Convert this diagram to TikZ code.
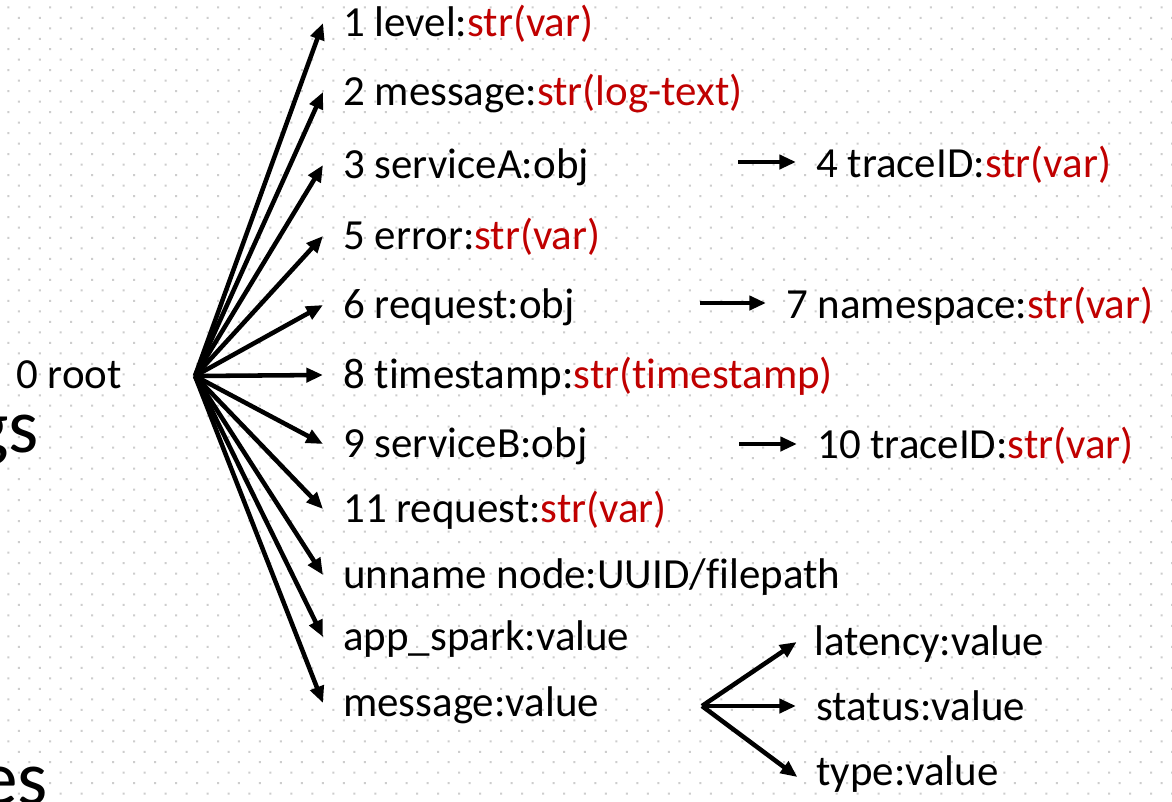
\documentclass[tikz,border=0pt]{standalone}
\usepackage{fontspec}
\setmainfont{Carlito}[Ligatures={NoCommon}]
\usetikzlibrary{arrows.meta}
\definecolor{valred}{HTML}{C00000}
\definecolor{dotgray}{HTML}{CDCDCD}
\begin{document}
\begin{tikzpicture}[x=0.75pt,y=-0.75pt,
  lbl/.style={anchor=base west, inner xsep=15pt, inner ysep=0pt,
              font=\fontsize{32.2}{36}\selectfont},
  plain/.style={anchor=base west, inner sep=0pt,
              font=\fontsize{32.2}{36}\selectfont},
  big/.style={anchor=base west, inner sep=0pt,
              font=\fontsize{58}{64}\selectfont},
  arr/.style={line width=3.4pt, -{Triangle[length=12.5pt,width=10.5pt]}},
]
\useasboundingbox (0,0) rectangle (1172,801);
\clip (0,0) rectangle (1172,801);
\fill[white] (0,0) rectangle (1172,801);

% staggered dot grid
\fill[dotgray] \foreach \i in {0,...,55} {\foreach \j in {0,...,38} {
  (7.3+20.97*\i, 6.3+20.97*\j) rectangle ++(2,2)
  (17.8+20.97*\i, 16.8+20.97*\j) rectangle ++(2,2)}};

% partially visible headings on the left
\node[big] (gs) at (-28,452) {gs};
\node[big] (es) at (-21,804) {es};

% root
\node[plain] (r0) at (16,388) {0 root};
\coordinate (root) at (195,376);

% first-level fields
\node[lbl] (l1)  at (323,36)  {1 level:\textcolor{valred}{str(var)}};
\node[lbl] (l2)  at (323,105) {2 message:\textcolor{valred}{str(log-text)}};
\node[lbl] (l3)  at (323,178) {3 serviceA:obj};
\node[lbl] (l5)  at (323,249) {5 error:\textcolor{valred}{str(var)}};
\node[lbl] (l6)  at (323,318) {6 request:obj};
\node[lbl] (l8)  at (323,388) {8 timestamp:\textcolor{valred}{str(timestamp)}};
\node[lbl] (l9)  at (323,457) {9 serviceB:obj};
\node[lbl] (l11) at (323,522) {11 request:\textcolor{valred}{str(var)}};
\node[lbl] (lu)  at (323,588) {unname node:UUID/filepath};
\node[lbl] (la)  at (323,650) {app\_spark:value};
\node[lbl] (lm)  at (323,716) {message:value};

\foreach \n in {l1,l2,l3,l5,l6,l8,l9,l11,lu,la,lm}
  \draw[arr] (root) -- ([yshift=9.75pt]\n.base west);

% second-level fields
\node[lbl] (l4)  at (796,177) {4 traceID:\textcolor{valred}{str(var)}};
\node[lbl] (l7)  at (766,318) {7 namespace:\textcolor{valred}{str(var)}};
\node[lbl] (l10) at (797,458) {10 traceID:\textcolor{valred}{str(var)}};
\node[lbl] (lat) at (794,655) {latency:value};
\node[lbl] (sta) at (796,720) {status:value};
\node[lbl] (typ) at (796,785) {type:value};

\coordinate (s4)  at ([xshift=-43.5pt,yshift=11.25pt]l4.base west);
\coordinate (s7)  at ([xshift=-49.5pt,yshift=11.25pt]l7.base west);
\coordinate (s10) at ([xshift=-43.5pt,yshift=10.5pt]l10.base west);
\coordinate (fan) at ([xshift=-70.5pt,yshift=10.5pt]sta.base west);

\draw[arr] (s4)  -- ([yshift=11.25pt]l4.base west);
\draw[arr] (s7)  -- ([yshift=11.25pt]l7.base west);
\draw[arr] (s10) -- ([yshift=10.5pt]l10.base west);
\draw[arr] (fan) -- ([xshift=2pt,yshift=9.75pt]lat.base west);
\draw[arr] (fan) -- ([yshift=10.5pt]sta.base west);
\draw[arr] (fan) -- ([xshift=1pt,yshift=6pt]typ.base west);
\end{tikzpicture}
\end{document}
